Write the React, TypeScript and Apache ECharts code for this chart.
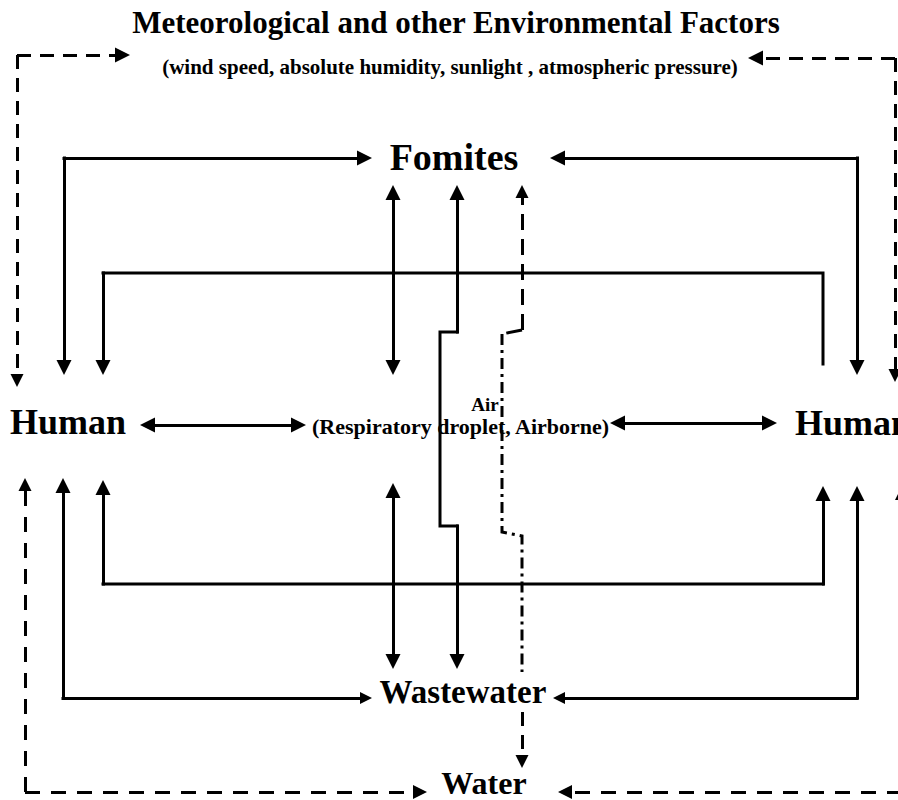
import React, { useEffect, useRef } from 'react';
import * as echarts from 'echarts';

const W = 898;
const H = 800;

// Texts
const titleText = 'Meteorological and other Environmental Factors';
const subtitleText = '(wind speed, absolute humidity, sunlight , atmospheric pressure)';
const fomitesLabel = 'Fomites';
const humanLabel = 'Human';
const wastewaterLabel = 'Wastewater';
const waterLabel = 'Water';
const airLabel = 'Air';
const airRouteLabel = '(Respiratory droplet, Airborne)';

// Connector paths in diagram units (x to the right, y downwards)
const fomitesLeftPath = [[64, 375], [64, 158], [372, 158]];
const fomitesRightPath = [[857, 375], [857, 158], [550, 158]];
const humanTopLinkPath = [[823, 364], [823, 273], [103, 273], [103, 375]];
const fomitesAirPath = [[393, 185], [393, 375]];
const fomitesWastewaterPath = [[457, 185], [457, 332], [440, 332], [440, 526], [457, 526], [457, 669]];
const humanAirLeftPath = [[140, 425], [306, 425]];
const humanAirRightPath = [[610, 423], [777, 423]];
const humanBottomLinkPath = [[103, 480], [103, 584], [823, 584], [823, 486]];
const humanWastewaterLeftPath = [[63, 478], [63, 698], [372, 698]];
const humanWastewaterRightPath = [[857, 486], [857, 698], [553, 698]];
const airWastewaterPath = [[393, 483], [393, 669]];

const envLeftPath = [[17, 387], [17, 55], [130, 55]];
const envRightPath = [[895, 382], [895, 58], [748, 58]];
const waterLeftPath = [[25, 478], [25, 792], [427, 792]];
const waterRightPath = [[558, 792], [902, 792], [902, 486]];
const waterFomitesTopPath = [[522, 185], [522, 330], [502, 334]];
const waterFomitesMidPath = [[502, 334], [502, 532], [522, 536], [522, 672]];
const waterFomitesLowPath = [[522, 712], [522, 768]];

type Link = { pts: number[][]; start: number; end: number; dash: any; width: number };

const links: Link[] = [
  { pts: fomitesLeftPath, start: 15, end: 15, dash: 'solid', width: 3 },
  { pts: fomitesRightPath, start: 15, end: 15, dash: 'solid', width: 3 },
  { pts: humanTopLinkPath, start: 0, end: 15, dash: 'solid', width: 3 },
  { pts: fomitesAirPath, start: 15, end: 15, dash: 'solid', width: 3 },
  { pts: fomitesWastewaterPath, start: 15, end: 15, dash: 'solid', width: 3 },
  { pts: humanAirLeftPath, start: 15, end: 15, dash: 'solid', width: 3 },
  { pts: humanAirRightPath, start: 15, end: 15, dash: 'solid', width: 3 },
  { pts: humanBottomLinkPath, start: 15, end: 15, dash: 'solid', width: 3 },
  { pts: humanWastewaterLeftPath, start: 15, end: 12, dash: 'solid', width: 3 },
  { pts: humanWastewaterRightPath, start: 15, end: 12, dash: 'solid', width: 3 },
  { pts: airWastewaterPath, start: 15, end: 15, dash: 'solid', width: 3 },
  { pts: envLeftPath, start: 13, end: 15, dash: [14, 9], width: 3 },
  { pts: envRightPath, start: 13, end: 15, dash: [14, 9], width: 3 },
  { pts: waterLeftPath, start: 13, end: 14, dash: [15, 11], width: 3 },
  { pts: waterRightPath, start: 14, end: 14, dash: [15, 11], width: 3 },
  { pts: waterFomitesTopPath, start: 13, end: 0, dash: [16, 9], width: 3 },
  { pts: waterFomitesMidPath, start: 0, end: 0, dash: [11, 5, 3, 5], width: 3 },
  { pts: waterFomitesLowPath, start: 0, end: 13, dash: [14, 9], width: 3 },
];

function toward(a: number[], b: number[], d: number) {
  const dx = b[0] - a[0];
  const dy = b[1] - a[1];
  const L = Math.hypot(dx, dy) || 1;
  return [a[0] + (dx / L) * d, a[1] + (dy / L) * d];
}

function buildSeries(link: Link): any[] {
  const solid = link.dash === 'solid';
  const lineStyle = {
    color: '#000',
    width: link.width,
    type: link.dash,
    cap: solid ? 'square' : 'butt',
    join: 'miter',
    opacity: 1,
    curveness: 0,
  };
  const base = {
    type: 'lines',
    coordinateSystem: 'cartesian2d',
    silent: true,
    animation: false,
    clip: false,
    lineStyle,
    itemStyle: { color: '#000' },
  };
  const out: any[] = [];
  const p = link.pts;
  const n = p.length;
  if (n === 2) {
    const a = link.start ? toward(p[0], p[1], link.start / 2) : p[0];
    const b = link.end ? toward(p[1], p[0], link.end / 2) : p[1];
    out.push({
      ...base,
      symbol: [link.start ? 'triangle' : 'none', link.end ? 'triangle' : 'none'],
      symbolSize: [link.start || 1, link.end || 1],
      data: [{ coords: [a, b] }],
    });
    return out;
  }
  const from = link.start ? 1 : 0;
  const to = link.end ? n - 2 : n - 1;
  if (to - from >= 1) {
    out.push({
      ...base,
      polyline: true,
      symbol: ['none', 'none'],
      data: [{ coords: p.slice(from, to + 1) }],
    });
  }
  if (link.start) {
    out.push({
      ...base,
      symbol: ['none', 'triangle'],
      symbolSize: [1, link.start],
      data: [{ coords: [p[1], toward(p[0], p[1], link.start / 2)] }],
    });
  }
  if (link.end) {
    out.push({
      ...base,
      symbol: ['none', 'triangle'],
      symbolSize: [1, link.end],
      data: [{ coords: [p[n - 2], toward(p[n - 1], p[n - 2], link.end / 2)] }],
    });
  }
  return out;
}

const FONT = 'Liberation Serif';

function txt(text: string, x: number, y: number, size: number, align: string) {
  return {
    type: 'text',
    x,
    y,
    z: 10,
    silent: true,
    style: {
      text,
      fontFamily: FONT,
      fontWeight: 'bold',
      fontSize: size,
      fill: '#000',
      align,
      verticalAlign: 'middle',
      textAlign: align,
      textVerticalAlign: 'middle',
    },
  };
}

export default function App() {
  const ref = useRef<HTMLDivElement>(null);
  useEffect(() => {
    if (!ref.current) return;
    const chart = echarts.init(ref.current, undefined, { renderer: 'svg' });
    const series: any[] = [];
    links.forEach((l) => series.push(...buildSeries(l)));
    chart.setOption({
      animation: false,
      backgroundColor: '#fff',
      grid: { left: 0, right: 0, top: 0, bottom: 0, containLabel: false },
      xAxis: { type: 'value', min: 0, max: W, show: false },
      yAxis: { type: 'value', min: 0, max: H, inverse: true, show: false },
      series,
      graphic: [
        txt(titleText, 456, 22, 31, 'center'),
        txt(subtitleText, 450, 67, 21, 'center'),
        txt(fomitesLabel, 454, 157, 38, 'center'),
        txt(humanLabel, 10, 422, 36, 'left'),
        txt(humanLabel, 795, 423, 36, 'left'),
        txt(airLabel, 485, 404, 19, 'center'),
        txt(airRouteLabel, 312, 426, 22, 'left'),
        txt(wastewaterLabel, 463, 692, 33, 'center'),
        txt(waterLabel, 484, 783, 32, 'center'),
      ],
    });
    return () => chart.dispose();
  }, []);
  return (
    <div
      ref={ref}
      style={{ position: 'absolute', left: 0, top: 0, width: W, height: H, background: '#fff' }}
    />
  );
}
